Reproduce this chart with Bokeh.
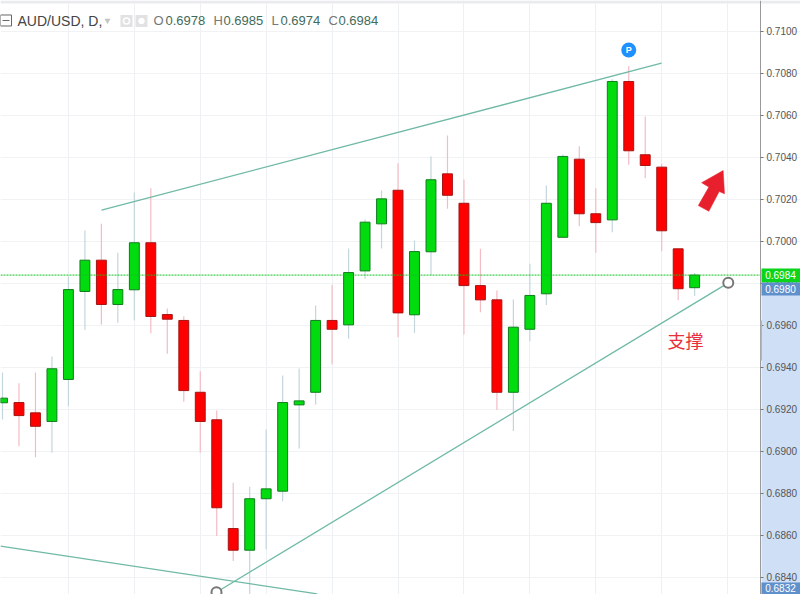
from bokeh.plotting import figure
from bokeh.models import (ColumnDataSource, Label, BoxAnnotation, FixedTicker, LinearAxis,
                          PrintfTickFormatter, Grid)
from bokeh.embed import file_html
from bokeh.resources import INLINE

opens = [.69232,.69233,.69184,.69143,.69343,.69762,.69911,.69700,.69770,.69994,.69652,
         .69624,.69282,.69151,.68633,.68530,.68775,.68811,.69222,.69282,.69624,.69603,
         .69860,.70084,.70244,.69651,.69951,.70322,.70182,.69790,.69722,.69282,.69582,
         .69751,.70020,.70392,.70132,.70103,.70762,.70413,.70354,.69965,.6978]
highs = [.69376,.69325,.69376,.69452,.69833,.70052,.70084,.69946,.70233,.70254,.69681,
         .69644,.69382,.69195,.68851,.68832,.69105,.69362,.69395,.69695,.69794,.69967,
         .70105,.70243,.70373,.70005,.70405,.70505,.70295,.69965,.69767,.69724,.69894,
         .70267,.70414,.70454,.70254,.70773,.70835,.70595,.70370,.69965,.6985]
lows = [.69152,.69025,.68973,.68994,.69216,.69578,.69605,.69613,.69625,.69563,.69465,
        .69237,.68994,.68597,.68478,.68310,.68533,.68763,.69014,.69224,.69416,.69537,
        .69822,.69967,.69544,.69565,.69838,.70156,.69557,.69663,.69197,.69097,.69525,
        .69697,.70020,.70073,.69946,.70044,.70365,.70301,.69954,.69720,.6974]
closes = [.69254,.69171,.69120,.69394,.69771,.69911,.69700,.69771,.69994,.69643,.69630,
          .69290,.69143,.68732,.68530,.68775,.68822,.69233,.69241,.69624,.69582,.69852,
          .70092,.70203,.69660,.69952,.70294,.70220,.69790,.69722,.69282,.69592,.69743,
          .70182,.70405,.70132,.70090,.70762,.70432,.70362,.70051,.69775,.6984]

y_ticks = [.7100,.7080,.7060,.7040,.7020,.7000,.6980,.6960,.6940,.6920,.6900,.6880,.6860,.6840]
x_ticks = [4,8,12,16,20,24,28,32,36,40,44]
resistance_x = [6.007,39.99]
resistance_y = [.70149,.70849]
support_x = [12.985,44.04]
support_y = [.68330,.69803]
lower_x = [-0.12,19.1]
lower_y = [.68549,.68322]
arrow_x = [43.73,43.81,43.49,42.86,42.22,42.86,42.42]
arrow_y = [.70338,.70227,.70238,.70144,.70171,.70259,.70280]
last_price = .6984
tag_prices = [.6984,.6980,.6832]
ohlc_letters = ["O","H","L","C"]
ohlc_values = ["0.6978","0.6985","0.6974","0.6984"]

W, H = 800, 594
SPACING = 16.48
XS, XE = -2/SPACING, 798/SPACING
YS, YE = .68319, .711476
def px(x): return (x-2)/SPACING
def py(y): return .71-(y-31)/21000

p = figure(frame_width=W, frame_height=H, output_backend="svg", toolbar_location=None,
           x_range=(XS,XE), y_range=(YS,YE), x_axis_type=None, y_axis_type=None,
           min_border_left=0, min_border_right=0, min_border_top=0, min_border_bottom=0,
           outline_line_color=None, background_fill_color="white")
p.grid.visible = False
xg = Grid(dimension=0, ticker=FixedTicker(ticks=x_ticks), grid_line_color="#eef1f4", grid_line_width=1)
yg = Grid(dimension=1, ticker=FixedTicker(ticks=y_ticks), grid_line_color="#f1f2f4", grid_line_width=1,
          bounds=(XS, px(760)))
p.add_layout(xg); p.add_layout(yg)

# axis band and price tags
p.add_layout(BoxAnnotation(left=px(761), right=XE, top=py(294), bottom=YS,
                           fill_color="#cfdff6", fill_alpha=1, line_color=None, level="underlay"))
p.add_layout(BoxAnnotation(left=XS, right=XE, top=YE, bottom=py(3),
                           fill_color="#e9ebef", fill_alpha=1, line_color=None, level="underlay"))

ax = LinearAxis(ticker=FixedTicker(ticks=y_ticks), formatter=PrintfTickFormatter(format="%.4f"),
                axis_line_color="#9a9a9a", axis_line_width=1, major_tick_line_color="#777777",
                major_tick_in=0, major_tick_out=3, minor_tick_line_color=None,
                major_label_text_font="Liberation Sans", major_label_text_font_size="10px",
                major_label_text_color="#555555", major_label_standoff=3,
                fixed_location=px(760))
p.add_layout(ax, "right")

p.add_layout(BoxAnnotation(left=px(760), right=px(761.5), top=py(320), bottom=py(360),
                           fill_color="#b5b5b5", fill_alpha=1, line_color=None, level="annotation"))
tags = [(268,282,"#0bd41a"),(282,295,"#5f90cc"),(582,594,"#5f90cc")]
for (t,b,c) in tags:
    p.add_layout(BoxAnnotation(left=px(761), right=XE, top=py(t), bottom=py(b),
                               fill_color=c, fill_alpha=1, line_color=None, level="annotation"))
for price, yy in zip(tag_prices, [275,288.5,587.5]):
    p.add_layout(Label(x=px(780), y=py(yy), text=f"{price:.4f}", text_color="white",
                       text_font="Liberation Sans", text_font_size="10px", text_align="center",
                       text_baseline="middle", level="overlay"))

src = ColumnDataSource(dict(
    x=list(range(len(opens))),
    o=opens, h=highs, l=lows, c=closes,
    top=[max(a,b) for a,b in zip(opens,closes)],
    bot=[min(a,b) for a,b in zip(opens,closes)],
    fill=["#00dc0e" if c>=o else "#ff0000" for o,c in zip(opens,closes)],
    edge=["#0f7d1c" if c>=o else "#a51414" for o,c in zip(opens,closes)],
    wick=["#c3d6dc" if c>=o else "#f3bcc4" for o,c in zip(opens,closes)],
))
p.segment(x0="x", x1="x", y0="l", y1="h", source=src, line_color="wick", line_width=1.2)
p.vbar(x="x", width=0.6, top="top", bottom="bot", source=src, fill_color="fill", line_color="edge", line_width=1)

p.line([XS,px(760)],[last_price,last_price], line_color="#12c21c", line_width=1, line_dash=[2,1])

for xs,ys in [(resistance_x,resistance_y),(support_x,support_y),(lower_x,lower_y)]:
    p.line(xs,ys,line_color="#6fb9a6",line_width=1.3)
p.scatter([support_x[0],support_x[1]],[support_y[0],support_y[1]],size=10,marker="circle",
          fill_color="white",line_color="#777777",line_width=2)

p.patch(arrow_x, arrow_y, fill_color="#e8202e", line_color="#e8202e", line_width=0.5)

p.scatter([38],[.70912],size=15,marker="circle",fill_color="#1e90ff",line_color=None)
p.add_layout(Label(x=38,y=.70912,text="P",text_color="white",text_font="Liberation Sans",
                   text_font_size="9px",text_font_style="bold",text_align="center",text_baseline="middle"))
p.add_layout(Label(x=px(685),y=py(340),text="支撑",text_color="#e8303a",text_font="Noto Sans CJK SC",
                   text_font_size="18px",text_align="center",text_baseline="middle"))

# header
p.scatter([px(5.5)],[py(20)],size=11,marker="square",fill_color="white",line_color="#666666",line_width=1)
p.scatter([px(5.5)],[py(20)],size=7,marker="dash",line_color="#666666",line_width=1)
p.scatter([px(107)],[py(20)],size=6,marker="inverted_triangle",fill_color="#c4c4c4",line_color=None)
p.scatter([px(126),px(141)],[py(20.5),py(20.5)],size=12,marker="square",fill_color="#e2e2e2",line_color=None)
p.scatter([px(126)],[py(20.5)],size=6,marker="circle",fill_color="#e2e2e2",line_color="white",line_width=1.5)
p.scatter([px(141)],[py(20.5)],size=7,marker="hex",fill_color="white",line_color=None)

hdr = dict(text_font="Liberation Sans", text_baseline="middle")
p.add_layout(Label(x=px(17),y=py(20.5),text="AUD/USD, D,",text_color="#444444",text_font_size="14px",**hdr))
for t,v,lx,vx in zip(ohlc_letters,ohlc_values,[153,213,271,328],[165,223,280,338]):
    p.add_layout(Label(x=px(lx),y=py(20.5),text=t,text_color="#777777",text_font_size="13px",**hdr))
    p.add_layout(Label(x=px(vx),y=py(20.5),text=v,text_color="#3f6b5a",text_font_size="13px",**hdr))

open("out.html","w").write(file_html(p, INLINE))
